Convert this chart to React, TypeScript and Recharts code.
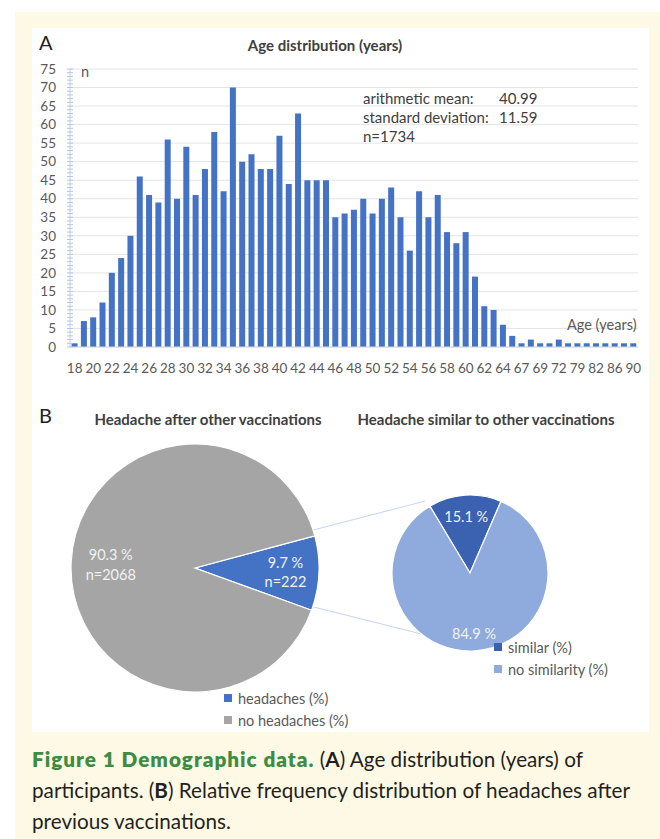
import { BarChart, Bar, XAxis, YAxis, CartesianGrid, PieChart, Pie, Cell } from 'recharts';

const ages = [
  '18', '19', '20', '21', '22', '23', '24', '25', '26', '27', '28', '29', '30', '31', '32', '33',
  '34', '35', '36', '37', '38', '39', '40', '41', '42', '43', '44', '45', '46', '47', '48', '49',
  '50', '51', '52', '53', '54', '55', '56', '57', '58', '59', '60', '61', '62', '63', '64', '65',
  '67', '68', '69', '70', '72', '74', '79', '80', '82', '84', '86', '88', '90',
];
const counts = [
  1, 7, 8, 12, 20, 24, 30, 46, 41, 39, 56, 40, 54, 41, 48, 58,
  42, 70, 50, 52, 48, 48, 57, 44, 63, 45, 45, 45, 35, 36, 37, 40,
  36, 40, 43, 35, 26, 42, 35, 41, 31, 28, 31, 19, 11, 10, 6, 3,
  1, 2, 1, 1, 2, 1, 1, 1, 1, 1, 1, 1, 1,
];
const minorTicks = Array.from({ length: 76 }, (_, i) => i);
const majorTicks = minorTicks.filter(v => v % 5 === 0);

const statLabels = ['arithmetic mean:', 'standard deviation:', 'n=1734'];
const statValues = ['40.99', '11.59', ''];

const headacheNames = ['headaches (%)', 'no headaches (%)'];
const headachePct = [9.7, 90.3];
const headacheN = [222, 2068];
const headacheColors = ['#4472C4', '#A5A5A5'];

const similarNames = ['similar (%)', 'no similarity (%)'];
const similarPct = [15.1, 84.9];
const similarColors = ['#3B62B0', '#8FAADC'];

const ageData = ages.map((age, i) => ({ age, n: counts[i] }));
const headacheData = headacheNames.map((name, i) => ({ name, value: headachePct[i], n: headacheN[i] }));
const similarData = similarNames.map((name, i) => ({ name, value: similarPct[i] }));

const FONT = 'Lato, "Noto Sans", sans-serif';
const RAD = Math.PI / 180;

// pie geometry (inside the pie chart box, which starts at y = PIE_TOP)
const PIE_TOP = 380;
const P1 = { cx: 190, cy: 183, r: 124, start: 15 };
const P2 = { cx: 465, cy: 188, r: 78, start: 121 };

function YTick(props: any) {
  const { x, y, payload } = props;
  const major = payload.value % 5 === 0;
  return (
    <g>
      <line x1={x - 3} x2={x + 3} y1={y} y2={y} stroke="#B7C4E2" strokeWidth={1} />
      {major && (
        <text x={x - 14} y={y} dy="0.35em" textAnchor="end" fontSize={13.5} fill="#595959" fontFamily={FONT}>
          {payload.value}
        </text>
      )}
    </g>
  );
}

function pieLabel(factors: number[], twoLines: boolean) {
  return (props: any) => {
    const { cx, cy, midAngle, outerRadius, index, payload } = props;
    const r = outerRadius * factors[index];
    const x = cx + r * Math.cos(-midAngle * RAD);
    const y = cy + r * Math.sin(-midAngle * RAD);
    const pct = payload.value.toFixed(1) + ' %';
    return (
      <text x={x} y={y} textAnchor="middle" fontSize={14.5} fill="#F2F2F2" fontFamily={FONT}>
        {twoLines ? (
          <>
            <tspan x={x} dy="-0.3em">{pct}</tspan>
            <tspan x={x} dy="1.35em">{'n=' + payload.n}</tspan>
          </>
        ) : (
          <tspan x={x} dy="0.35em">{pct}</tspan>
        )}
      </text>
    );
  };
}

function Txt({ x, y, children, style }: any) {
  return (
    <div style={{ position: 'absolute', left: x, top: y - 10, lineHeight: '20px', whiteSpace: 'nowrap', ...style }}>
      {children}
    </div>
  );
}

function LegendRows({ x, y, names, colors }: any) {
  return (
    <>
      {names.map((name: string, i: number) => (
        <div key={name} style={{ position: 'absolute', left: x, top: y + i * 22 - 10, height: 20, display: 'flex', alignItems: 'center', fontSize: 14.5, color: '#595959', whiteSpace: 'nowrap' }}>
          <span style={{ width: 8, height: 8, background: colors[i], marginRight: 6, display: 'inline-block' }} />
          {name}
        </div>
      ))}
    </>
  );
}

export default function App() {
  const hEnd = P1.start - 360 * headachePct[0] / 100;
  const p1a = { x: P1.cx + P1.r * Math.cos(P1.start * RAD), y: PIE_TOP + P1.cy - P1.r * Math.sin(P1.start * RAD) };
  const p1b = { x: P1.cx + P1.r * Math.cos(hEnd * RAD), y: PIE_TOP + P1.cy - P1.r * Math.sin(hEnd * RAD) };
  const p2a = { x: P2.cx + P2.r * Math.cos(P2.start * RAD), y: PIE_TOP + P2.cy - P2.r * Math.sin(P2.start * RAD) };
  const p2b = { x: P2.cx + P2.r * Math.cos(-P2.start * RAD), y: PIE_TOP + P2.cy - P2.r * Math.sin(-P2.start * RAD) };

  return (
    <div style={{ position: 'absolute', left: 0, top: 0, width: 660, height: 839, background: '#fff', fontFamily: FONT, color: '#404040', overflow: 'hidden' }}>
      <div style={{ position: 'absolute', left: 15, top: 12, width: 645, height: 827, background: '#FEF9E4' }} />
      <div style={{ position: 'absolute', left: 32, top: 28, width: 617, height: 704, background: '#fff' }} />

      {/* A: age histogram */}
      <div style={{ position: 'absolute', left: 0, top: 0 }}>
        <BarChart width={660} height={390} data={ageData} margin={{ top: 69, right: 22, left: 0, bottom: 13 }} barCategoryGap="17%">
          <CartesianGrid vertical={false} horizontalValues={majorTicks} stroke="#E4E4E4" />
          <XAxis
            dataKey="age"
            interval={1}
            tickLine={false}
            axisLine={{ stroke: '#D9D9D9' }}
            tickMargin={10}
            height={30}
            tick={{ fontSize: 13.5, fill: '#595959', fontFamily: FONT }}
          />
          <YAxis
            type="number"
            domain={[0, 75]}
            ticks={minorTicks}
            interval={0}
            width={70}
            tickSize={0}
            tickMargin={0}
            tickLine={false}
            axisLine={{ stroke: '#C3CEE8' }}
            tick={<YTick />}
          />
          <Bar dataKey="n" fill="#4472C4" isAnimationActive={false} />
        </BarChart>
      </div>
      <Txt x={39} y={42} style={{ fontSize: 20, color: '#222' }}>A</Txt>
      <Txt x={325} y={45} style={{ fontSize: 15, fontWeight: 700, transform: 'translateX(-50%)' }}>Age distribution (years)</Txt>
      <Txt x={81} y={72} style={{ fontSize: 14.5, color: '#595959' }}>n</Txt>
      {statLabels.map((s, i) => (
        <Txt key={s} x={363} y={98 + i * 19} style={{ fontSize: 15, color: '#404040' }}>
          {s}
          {statValues[i] && <span style={{ position: 'absolute', left: 136 }}>{statValues[i]}</span>}
        </Txt>
      ))}
      <Txt x={567} y={325} style={{ fontSize: 14.5, color: '#595959' }}>Age (years)</Txt>

      {/* B: pies */}
      <Txt x={39} y={415} style={{ fontSize: 20, color: '#222' }}>B</Txt>
      <Txt x={208} y={419} style={{ fontSize: 15, fontWeight: 700, transform: 'translateX(-50%)' }}>Headache after other vaccinations</Txt>
      <Txt x={486} y={419} style={{ fontSize: 15, fontWeight: 700, transform: 'translateX(-50%)' }}>Headache similar to other vaccinations</Txt>

      <svg width={660} height={839} style={{ position: 'absolute', left: 0, top: 0 }}>
        <line x1={p1a.x} y1={p1a.y} x2={p2a.x} y2={p2a.y} stroke="#B4CBEA" strokeWidth={0.8} />
        <line x1={p1b.x} y1={p1b.y} x2={p2b.x} y2={p2b.y} stroke="#B4CBEA" strokeWidth={0.8} />
      </svg>

      <div style={{ position: 'absolute', left: 0, top: PIE_TOP }}>
        <PieChart width={660} height={360}>
          <Pie
            data={headacheData}
            dataKey="value"
            cx={P1.cx}
            cy={P1.cy}
            outerRadius={P1.r}
            startAngle={P1.start}
            endAngle={P1.start - 360}
            stroke="#fff"
            strokeWidth={1.2}
            labelLine={false}
            label={pieLabel([0.73, 0.68], true)}
            isAnimationActive={false}
          >
            {headacheData.map((d, i) => <Cell key={d.name} fill={headacheColors[i]} />)}
          </Pie>
          <Pie
            data={similarData}
            dataKey="value"
            cx={P2.cx}
            cy={P2.cy}
            outerRadius={P2.r}
            startAngle={P2.start}
            endAngle={P2.start - 360}
            stroke="#fff"
            strokeWidth={1.2}
            labelLine={false}
            label={pieLabel([0.72, 0.78], false)}
            isAnimationActive={false}
          >
            {similarData.map((d, i) => <Cell key={d.name} fill={similarColors[i]} />)}
          </Pie>
        </PieChart>
      </div>

      <LegendRows x={224} y={698} names={headacheNames} colors={headacheColors} />
      <LegendRows x={494} y={647} names={similarNames} colors={similarColors} />

      {/* caption */}
      <div style={{ position: 'absolute', left: 32, top: 744, fontSize: 20.7, lineHeight: '31px', color: '#231F20', whiteSpace: 'nowrap' }}>
        <span style={{ color: '#3E8C44', fontWeight: 800, letterSpacing: 1 }}>Figure 1 Demographic data.</span> (<b>A</b>) Age distribution (years) of
        <br />
        participants. (<b>B</b>) Relative frequency distribution of headaches after
        <br />
        previous vaccinations.
      </div>
    </div>
  );
}
